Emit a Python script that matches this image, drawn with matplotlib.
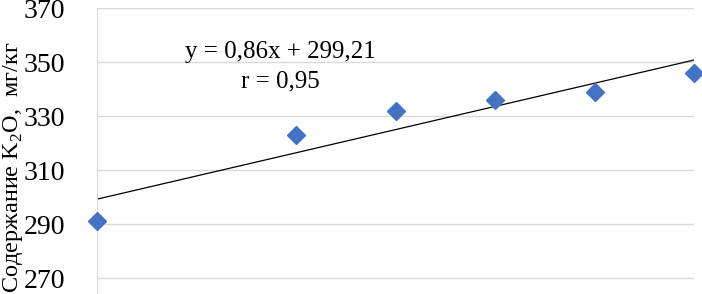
import numpy as np
import matplotlib
matplotlib.use('Agg')
import matplotlib.pyplot as plt

# data
doses = [0, 20, 30, 40, 50, 60]
k2o = [291, 323, 332, 336, 339, 346]
y_ticks = [270, 290, 310, 330, 350, 370]
eq_text = 'y = 0,86x + 299,21'
r_text = 'r = 0,95'

plt.rcParams['font.family'] = ['Liberation Serif', 'DejaVu Serif']
plt.rcParams['mathtext.fontset'] = 'custom'
plt.rcParams['mathtext.rm'] = 'Liberation Serif'

W, H = 702, 294
fig = plt.figure(figsize=(W / 100, H / 100), dpi=100)
left, right, top = 97, 694, 8
ax = fig.add_axes([left / W, 0, (right - left) / W, (H - top) / H])

# trendline
k, b = np.polyfit(doses, k2o, 1)
xs = np.array([0, 60])
ax.plot(xs, k * xs + b, color='black', lw=0.9, zorder=2)

ax.plot(doses, k2o, linestyle='none', marker='D', markersize=9,
        color='#4472C4', clip_on=False, zorder=3)

ax.set_xlim(0, 60)
ax.set_ylim(264.1, 370)
ax.set_yticks(y_ticks)
ax.set_xticks([])
ax.yaxis.grid(True, color='#d9d9d9', lw=1)
ax.set_axisbelow(True)
for s in ['top', 'right', 'bottom']:
    ax.spines[s].set_visible(False)
ax.spines['left'].set_color('#d9d9d9')
ax.tick_params(axis='y', length=0, pad=23, labelsize=20)

fig.text(13 / W, 1 - 167 / H, 'Содержание K$_\\mathrm{2}$O,  мг/кг', rotation=90,
         ha='center', va='center', fontsize=17.5)

fig.text(280 / W, 1 - 52 / H, eq_text, ha='center', va='center', fontsize=18)
fig.text(280 / W, 1 - 81 / H, r_text, ha='center', va='center', fontsize=18)

fig.savefig('out.png', dpi=100)
